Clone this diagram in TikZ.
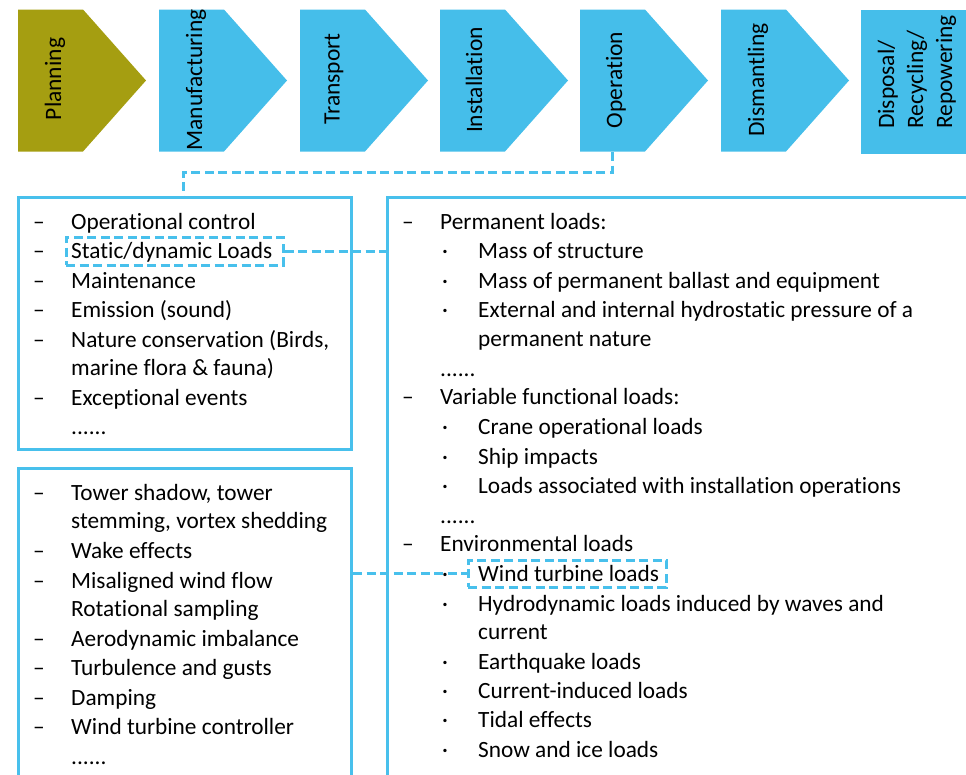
\documentclass[tikz,border=0pt]{standalone}
\usepackage{fontspec}
\setmainfont[Ligatures=NoCommon]{Carlito}
\definecolor{stageblue}{RGB}{69,190,234}
\definecolor{stageolive}{RGB}{165,158,17}
\definecolor{linkblue}{RGB}{72,192,236}
\newcommand\moredots{......}
\tikzset{
  phasetext/.style={rotate=90, inner sep=0, align=left, font=\fontsize{23.5}{29}\selectfont},
  frame/.style={draw=linkblue, line width=3pt, inner sep=0, anchor=north west},
  link/.style={draw=linkblue, line width=3pt, dash pattern=on 9pt off 4.5pt},
  hlbox/.style={link, inner sep=0},
  item/.style={anchor=base west, inner sep=0, font=\fontsize{23.3}{29.5}\selectfont},
}
\begin{document}
\begin{tikzpicture}[x=1pt,y=-1pt]
\useasboundingbox (0,0) rectangle (966,774);
\clip (0,0) rectangle (966,774);

% life-cycle phases as chevrons
\foreach \x/\c in {18/stageolive,159/stageblue,300/stageblue,440/stageblue,580/stageblue,721/stageblue}
  \fill[\c] (\x,9.5) -- (\x+65,9.5) -- (\x+128,80.5) -- (\x+65,151.5) -- (\x,151.5) -- cycle;
\fill[stageblue] (861,9.5) rectangle (990,154);

\node[phasetext] (planning) at (55,79) {Planning};
\node[phasetext] (manufacturing) at (196,80) {Manufacturing};
\node[phasetext] (transport) at (334,79) {Transport};
\node[phasetext] (installation) at (474,80) {Installation};
\node[phasetext] (operation) at (616,80) {Operation};
\node[phasetext] (dismantling) at (758,80) {Dismantling};
\node[phasetext] (disposal) at (917,72) {Disposal/\\Recycling/\\Repowering};

% frames
\node[frame, minimum width=333pt, minimum height=252pt] (opsbox) at (17,196) {};
\node[frame, minimum width=333pt, minimum height=340pt] (aerobox) at (17,467) {};
\node[frame, minimum width=640pt, minimum height=640pt] (loadbox) at (386,196) {};

% operation aspects
\foreach \y/\t in {221/Operational control, 250/{Static/dynamic Loads}, 280/Maintenance,
    309/Emission (sound), 339/{Nature conservation (Birds,}, 367/marine flora \& fauna),
    397/Exceptional events, 426/\moredots}
  \node[item] (ops\y) at (71,\y+8) {\t};
\foreach \y in {221,250,280,309,339,397}
  \node[item] (opsdash\y) at (33,\y+8) {–};

% wind turbine load sources
\foreach \y/\t in {492/{Tower shadow, tower}, 520/{stemming, vortex shedding}, 550/Wake effects,
    580/Misaligned wind flow, 608/Rotational sampling, 638/Aerodynamic imbalance,
    667/Turbulence and gusts, 697/Damping, 726/Wind turbine controller, 756/\moredots}
  \node[item] (aero\y) at (71,\y+8) {\t};
\foreach \y in {492,550,580,638,667,697,726}
  \node[item] (aerodash\y) at (33,\y+8) {–};

% load categories
\foreach \y/\t in {221/Permanent loads:, 396/Variable functional loads:, 543/Environmental loads}
  \node[item] (cat\y) at (440,\y+8) {\t};
\foreach \y in {221,396,543}
  \node[item] (catdash\y) at (402,\y+8) {–};
\foreach \y in {368,515}
  \node[item] (more\y) at (440,\y+8) {\moredots};
\foreach \y/\t in {250/Mass of structure, 280/Mass of permanent ballast and equipment,
    309/External and internal hydrostatic pressure of a, 338/permanent nature,
    426/Crane operational loads, 456/Ship impacts, 485/Loads associated with installation operations,
    573/Wind turbine loads, 603/Hydrodynamic loads induced by waves and, 631/current,
    661/Earthquake loads, 690/Current-induced loads, 719/Tidal effects, 749/Snow and ice loads}
  \node[item] (sub\y) at (478,\y+8) {\t};
\foreach \y in {250,280,309,426,456,485,573,603,661,690,719,749}
  \node[item] (subdot\y) at (442,\y+8) {·};

% highlighted entries and their links
\node[hlbox, minimum width=217pt, minimum height=28pt] (hlA) at (174.5,251) {};
\node[hlbox, minimum width=198pt, minimum height=27pt] (hlB) at (567,573.5) {};

\coordinate (opfoot) at (612,152);
\coordinate (bend) at (183,172);
\draw[link] (opfoot) |- (bend) -- (bend |- opsbox.north);
\draw[link] (hlA.east) -- (hlA.east -| loadbox.west);
\draw[link] (aerobox.east |- hlB.west) -- (hlB.west);
\end{tikzpicture}
\end{document}
